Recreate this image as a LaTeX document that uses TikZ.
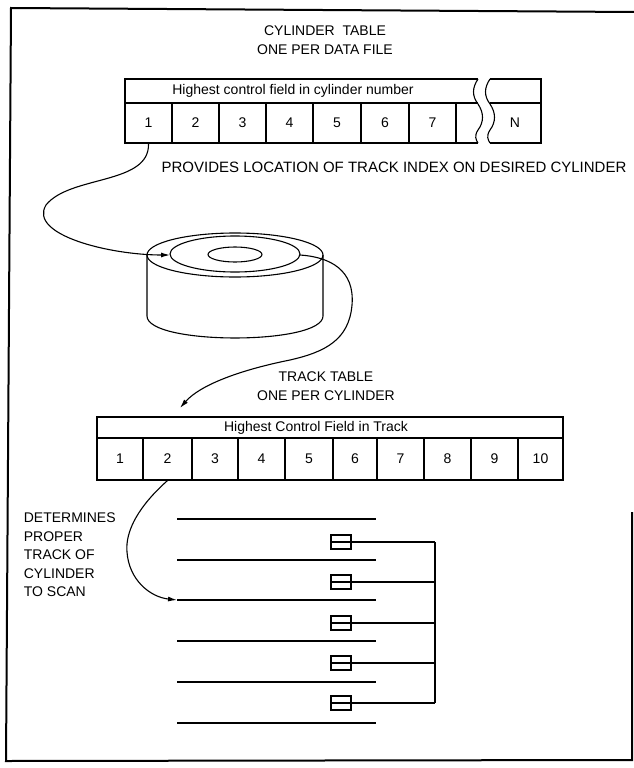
\documentclass[tikz,border=0pt]{standalone}
\usepackage{fontspec}
\setmainfont{Liberation Sans}
\usetikzlibrary{arrows.meta}

\begin{document}
\begin{tikzpicture}[x=1pt, y=-1pt, line width=1.1pt,
  txt/.style={font=\fontsize{14}{18.5}\selectfont, align=center},
  cell/.style={draw, inner sep=0pt, minimum height=40, font=\fontsize{14}{16}\selectfont},
  head/.style={draw, inner sep=0pt, minimum width=20, minimum height=14},
  tip/.style={-{Latex[length=9pt,width=5pt]}}]
\useasboundingbox (0,0) rectangle (634,768);

% frame
\draw[line width=2pt] (634,12) -- (11,8) -- (6,761) -- (632,760) -- (632,512);

% cylinder table
\node[txt] (cyltitle) at (325,40) {CYLINDER\ \ TABLE\\ONE PER DATA FILE};
\draw (478,79) -- (125,79) -- (125,143) -- (478,143);
\draw (125,103) -- (478,103);
\draw (478,79) .. controls (472,88) and (472,96) .. (478,104) .. controls (484,113) and (484,122) .. (478,130) .. controls (474,136) and (476,140) .. (478,143);
\node[txt] (cylhead) at (293,91) {Highest control field in cylinder number};
\foreach \n/\a/\b in {1/125/172, 2/172/219, 3/219/266, 4/266/313, 5/313/361, 6/361/409, 7/409/456}
  \node[cell, minimum width=\b-\a] (cyl-\n) at ({(\a+\b)/2},123) {\n};
\draw (490,79) -- (541,79) -- (541,143) -- (490,143);
\draw (490,103) -- (541,103);
\draw (490,79) .. controls (484,88) and (484,96) .. (490,104) .. controls (496,113) and (496,122) .. (490,130) .. controls (486,136) and (488,140) .. (490,143);
\node[txt] (cyl-N) at (515,123) {N};
\node[font=\fontsize{15}{18}\selectfont] (provides) at (394,167) {PROVIDES LOCATION OF TRACK INDEX ON DESIRED CYLINDER};

% the cylinder
\draw (235,255) ellipse [x radius=88, y radius=22];
\draw (235,254) ellipse [x radius=65, y radius=18];
\draw (235,254.5) ellipse [x radius=27, y radius=7.5];
\draw (147,255) -- (147,316) .. controls (147,345.3) and (323,345.3) .. (323,316) -- (323,255);
\coordinate (ringW) at (170,255);
\coordinate (ringE) at (300,255);

\draw[tip] (cyl-1.south) .. controls (150,185) and (70,175) .. (46,205) .. controls (28,235) and (110,255) .. (ringW);

% track table
\node[txt] (trktitle) at (326,386) {TRACK TABLE\\ONE PER CYLINDER};
\node[draw, inner sep=0pt, minimum width=466, minimum height=21] (trkhead) at (330,427.5) {};
\node[txt] (trkheadtxt) at (316,427.5) {Highest Control Field in Track};
\foreach \n/\a/\b in {1/97/143, 2/143/192, 3/192/238, 4/238/285, 5/285/333, 6/333/377, 7/377/424, 8/424/471, 9/471/518, 10/518/563}
  \node[cell, minimum width=\b-\a, minimum height=42] (trk-\n) at ({(\a+\b)/2},459) {\n};
\coordinate (trktop) at (180,408);

\draw[tip] (ringE) .. controls (330,257) and (355,270) .. (352,305) .. controls (349,340) and (325,352) .. (290,360) .. controls (240,370) and (200,385) .. (trktop);

% tracks and heads
\foreach \i/\y in {1/519, 2/560, 3/600, 4/641, 5/682, 6/723} {
  \coordinate (line-\i) at (177,\y);
  \draw (line-\i) -- (376,\y);
}
\coordinate (bus-top) at (435,542);
\coordinate (bus-bot) at (435,703);
\foreach \i/\y in {1/542, 2/582, 3/623, 4/663, 5/703} {
  \node[head] (hd-\i) at (341,\y) {};
  \draw (hd-\i.west) -- (hd-\i.east) -- (hd-\i.east -| bus-top);
}
\draw (bus-top) -- (bus-bot);

\node[font=\fontsize{14}{18.5}\selectfont, align=left, anchor=west] (determines) at (20,555) {DETERMINES\\PROPER\\TRACK OF\\CYLINDER\\TO SCAN};
\draw[tip] (trk-2.south) .. controls (140,505) and (125,530) .. (127,552) .. controls (129,580) and (150,597) .. (line-3);
\end{tikzpicture}
\end{document}
